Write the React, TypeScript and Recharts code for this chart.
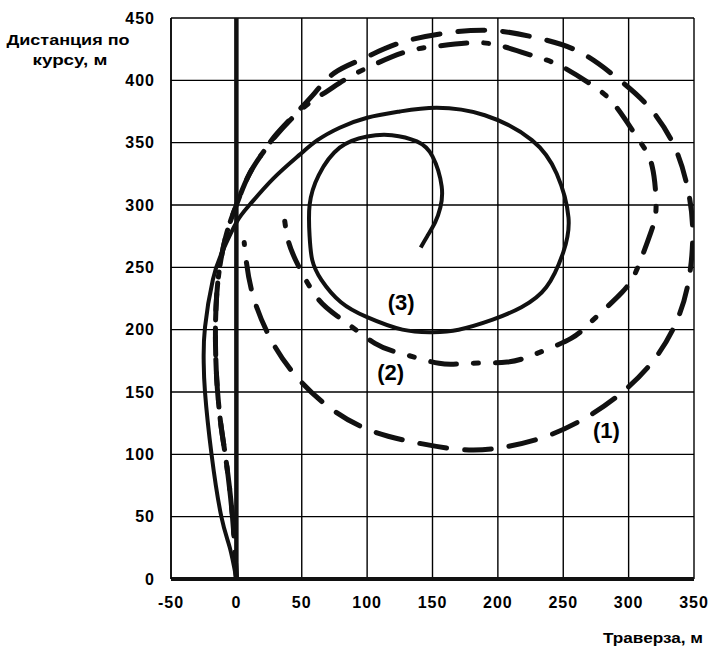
import { LineChart, Line, XAxis, YAxis, CartesianGrid, ReferenceLine, ReferenceDot } from 'recharts';

// траектории циркуляции: [траверза, дистанция по курсу], м
const traj1: [number, number][] = [
  [0, 0], [-3, 50], [-8, 96], [-12, 125], [-15, 160], [-16, 200], [-14, 240], [-8, 275], [0, 300],
  [10, 325], [21, 343], [30, 356], [45, 373], [60, 390], [75, 406], [96, 417], [125, 430], [161, 438],
  [196, 440], [230, 434], [262, 423], [291, 402], [316, 378], [335, 347], [345, 314], [349, 280],
  [346, 240], [336, 205], [318, 174], [293, 148], [265, 128], [233, 113], [200, 105], [170, 104],
  [130, 111], [96, 122], [67, 141], [43, 166], [25, 195], [12, 230], [7, 260], [6, 270],
];

const traj2: [number, number][] = [
  [0, 0], [-3, 50], [-8, 96], [-12, 125], [-15, 160], [-16, 200], [-14, 240], [-8, 275], [0, 300],
  [10, 325], [21, 343], [29, 354], [42, 369], [56, 382], [69, 391], [82, 400], [100, 410], [127, 422],
  [150, 427], [178, 430], [201, 428], [229, 419], [249, 411], [275, 394], [291, 378], [308, 352],
  [318, 331], [321, 299], [317, 278], [307, 250], [295, 230], [272, 207], [256, 193], [230, 181],
  [207, 174], [177, 173], [155, 173], [126, 181], [106, 189], [81, 208], [63, 224], [48, 250],
  [40, 270], [37, 287],
];

const traj3: [number, number][] = [
  [0, 0], [-5, 25], [-11.5, 50], [-19, 100], [-24, 150], [-25, 175], [-24, 202], [-18, 240],
  [-11, 262], [0, 286], [10, 300], [28, 321], [48, 340], [62, 352], [79, 362], [100, 370],
  [125, 375], [153, 378], [190, 372], [226, 352], [245, 325], [254, 290], [250, 262], [237, 234],
  [218, 218], [196, 208], [170, 200], [150, 198], [127, 200], [100, 210], [80, 222], [65, 240],
  [58, 256], [56, 275], [56, 300], [63, 324], [79, 346], [100, 355], [119, 356], [138, 351],
  [150, 339], [157, 315], [156, 298], [152, 286], [146, 275], [141, 266],
];

const curveLabels = [
  { x: 283, y: 119, text: '(1)' },
  { x: 118, y: 166, text: '(2)' },
  { x: 126, y: 222, text: '(3)' },
];

const xTicks = [-50, 0, 50, 100, 150, 200, 250, 300, 350];
const yTicks = [0, 50, 100, 150, 200, 250, 300, 350, 400, 450];

const toRows = (pts: [number, number][]) => pts.map(([x, y]) => ({ x, y }));

const FONT = '"Liberation Sans", Arial, sans-serif';
const tickStyle = { fill: '#000', fontSize: 16, fontWeight: 700, fontFamily: FONT, letterSpacing: 1 };

const AxisTitles = () => (
  <g fontFamily={FONT} fontWeight={700} fontSize={15} fill="#000">
    <text x={68} y={45} textAnchor="middle" textLength={123} lengthAdjust="spacingAndGlyphs">Дистанция по</text>
    <text x={70} y={65} textAnchor="middle" textLength={75} lengthAdjust="spacingAndGlyphs">курсу, м</text>
    <text x={703} y={643} textAnchor="end" textLength={100} lengthAdjust="spacingAndGlyphs">Траверза, м</text>
  </g>
);

export default function App() {
  return (
    <div style={{ position: 'absolute', left: 0, top: 0, width: 713, height: 646, background: '#fff' }}>
      <LineChart width={713} height={646} margin={{ top: 18, right: 19, bottom: 0, left: 0 }}>
        <CartesianGrid stroke="#000" strokeWidth={1.4} />
        <XAxis
          type="number"
          dataKey="x"
          domain={[-50, 350]}
          ticks={xTicks}
          allowDataOverflow
          height={67}
          tick={tickStyle}
          tickLine={false}
          tickSize={0}
          tickMargin={18}
          axisLine={{ stroke: '#111', strokeWidth: 4 }}
        />
        <YAxis
          type="number"
          dataKey="y"
          domain={[0, 450]}
          ticks={yTicks}
          allowDataOverflow
          width={171}
          tick={tickStyle}
          tickLine={false}
          tickSize={0}
          tickMargin={16}
          axisLine={{ stroke: '#000', strokeWidth: 1.4 }}
          label={{ content: () => <AxisTitles /> }}
        />
        <ReferenceLine x={0} stroke="#111" strokeWidth={4.5} />
        <Line
          data={toRows(traj1)}
          dataKey="y"
          type="natural"
          stroke="#111"
          strokeWidth={5}
          strokeDasharray="27 18"
          strokeLinecap="round"
          dot={false}
          isAnimationActive={false}
        />
        <Line
          data={toRows(traj2)}
          dataKey="y"
          type="natural"
          stroke="#111"
          strokeWidth={5}
          strokeDasharray="26 17 5 17"
          strokeLinecap="round"
          dot={false}
          isAnimationActive={false}
        />
        <Line
          data={toRows(traj3)}
          dataKey="y"
          type="natural"
          stroke="#111"
          strokeWidth={4}
          dot={false}
          isAnimationActive={false}
        />
        {curveLabels.map((l) => (
          <ReferenceDot
            key={l.text}
            x={l.x}
            y={l.y}
            r={0}
            fill="none"
            stroke="none"
            label={{ value: l.text, position: 'center', fill: '#000', fontSize: 22, fontWeight: 700, fontFamily: FONT }}
          />
        ))}
      </LineChart>
    </div>
  );
}
